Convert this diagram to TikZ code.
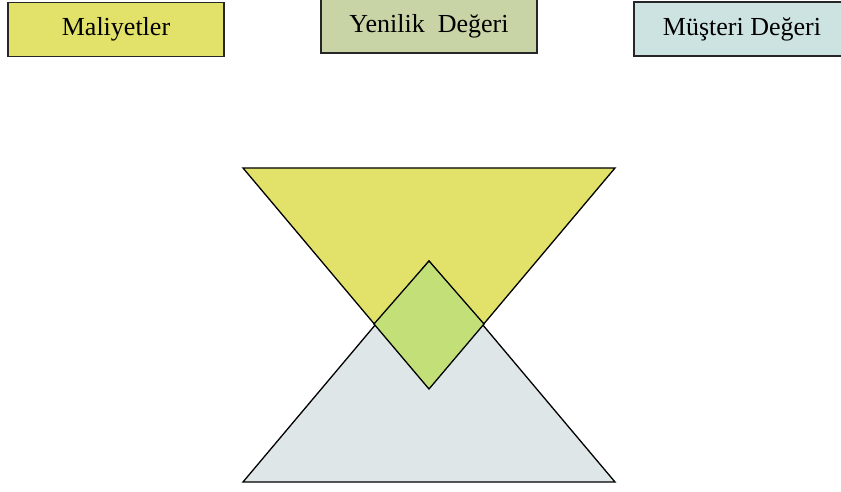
\documentclass[tikz,border=0pt]{standalone}
\usepackage{fontspec}
\setmainfont{Liberation Serif}
\definecolor{cyel}{HTML}{E2E26A}
\definecolor{cgrn}{HTML}{C8D4A6}
\definecolor{ccyan}{HTML}{CDE3E2}
\definecolor{cgray}{HTML}{DFE6E8}
\definecolor{cdia}{HTML}{C2DF78}
\begin{document}
\begin{tikzpicture}[x=1pt,y=-1pt,
  topbox/.style={draw=black!85,line width=1.3pt,minimum height=54pt,inner sep=0pt,font=\fontsize{26}{30}\selectfont},
  tri/.style={draw=black,line width=1.3pt,line join=miter}]
\useasboundingbox (0,0) rectangle (841,492);
\begin{scope}
\clip (0,0) rectangle (841,492);
\node[topbox,fill=cyel,minimum width=216pt] (m) at (116,29.5) {Maliyetler};
\node[topbox,fill=cgrn,minimum width=216pt] (y) at (429,26) {Yenilik\ \ Değeri};
\node[topbox,fill=ccyan,minimum width=216pt] (d) at (742,29) {Müşteri Değeri};
\end{scope}
\coordinate (tl) at (243,168);
\coordinate (tr) at (615,168);
\coordinate (tb) at (429,389);
\coordinate (bl) at (243,482);
\coordinate (br) at (615,482);
\coordinate (bt) at (429,261);
\coordinate (il) at (374,324);
\coordinate (ir) at (484,324);
\draw[tri,fill=cyel] (tl) -- (tr) -- (tb) -- cycle;
\draw[tri,fill=cgray] (bl) -- (br) -- (bt) -- cycle;
\draw[tri,fill=cdia] (bt) -- (ir) -- (tb) -- (il) -- cycle;
\end{tikzpicture}
\end{document}
